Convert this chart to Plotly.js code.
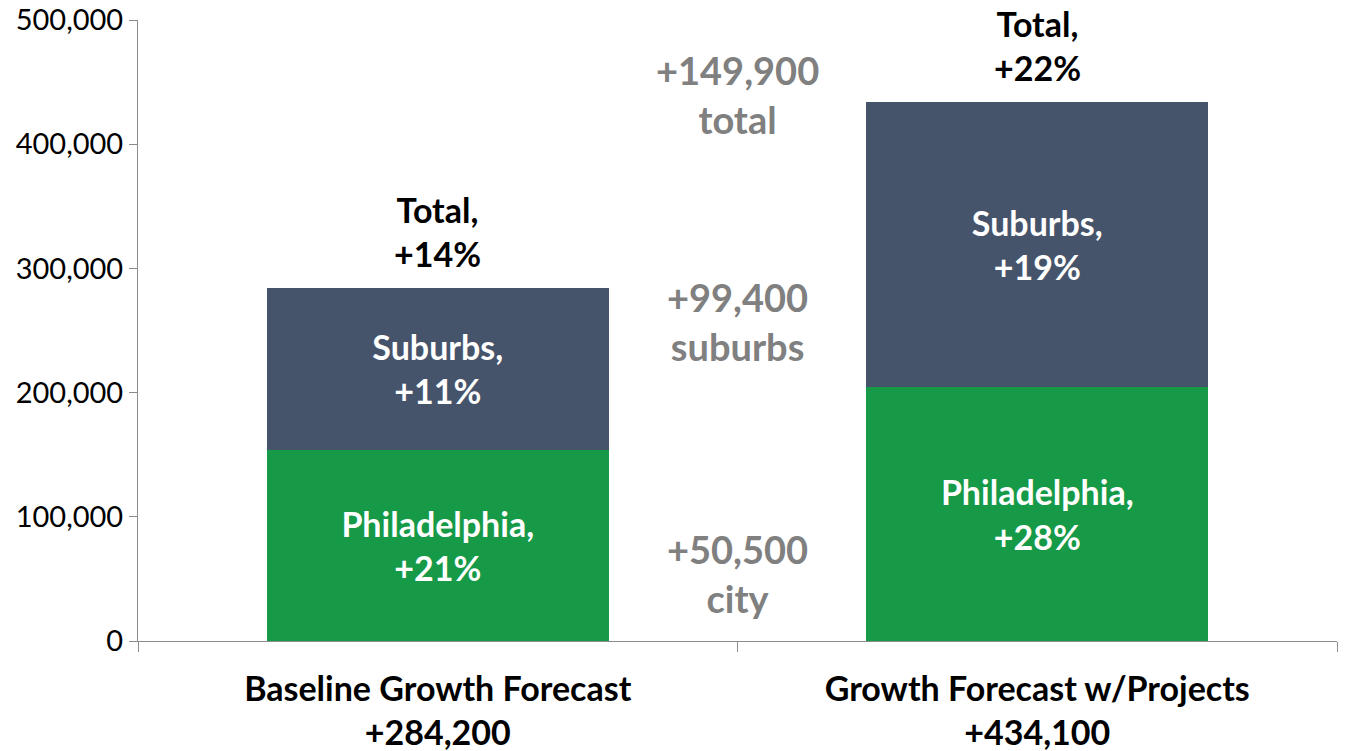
<!DOCTYPE html>
<html>
<head>
<meta charset="utf-8">
<script src="https://cdn.plot.ly/plotly-3.0.1.min.js"></script>
<style>
  html, body { margin: 0; padding: 0; background: #fff; }
  #chart { width: 1348px; height: 751px; }
</style>
</head>
<body>
<div id="chart"></div>
<script>
const scenarios = ['Baseline Growth Forecast', 'Growth Forecast w/Projects'];
const totalLabels = ['+284,200', '+434,100'];
const cityValues = [154000, 204500];
const suburbValues = [130200, 229600];
const cityPct = ['+21%', '+28%'];
const suburbPct = ['+11%', '+19%'];
const totalPct = ['+14%', '+22%'];
const diffLabels = ['+149,900<br>total', '+99,400<br>suburbs', '+50,500<br>city'];
const diffY = [440000, 257000, 54000];

const font = 'Lato, "Open Sans", sans-serif';
const totals = cityValues.map((v, i) => v + suburbValues[i]);

const traces = [
    {
        x: scenarios,
        y: cityValues,
        type: 'bar',
        name: 'Philadelphia',
        marker: { color: '#169A48' },
        text: cityPct.map(p => 'Philadelphia,<br>' + p),
        textposition: 'inside',
        insidetextanchor: 'middle',
        constraintext: 'none',
        textfont: { family: font, size: 34, color: '#ffffff', weight: 'bold' },
        hoverinfo: 'skip',
    },
    {
        x: scenarios,
        y: suburbValues,
        type: 'bar',
        name: 'Suburbs',
        marker: { color: '#46546B' },
        text: suburbPct.map(p => 'Suburbs,<br>' + p),
        textposition: 'inside',
        insidetextanchor: 'middle',
        constraintext: 'none',
        textfont: { family: font, size: 34, color: '#ffffff', weight: 'bold' },
        hoverinfo: 'skip',
    },
];

const annotations = scenarios.map((s, i) => ({
    x: s,
    y: totals[i],
    yanchor: 'bottom',
    yshift: 12,
    text: 'Total,<br>' + totalPct[i],
    showarrow: false,
    font: { family: font, size: 34, color: '#000000', weight: 'bold' },
})).concat(diffLabels.map((t, i) => ({
    x: 0.5,
    y: diffY[i],
    xref: 'x',
    text: t,
    showarrow: false,
    font: { family: font, size: 38, color: '#808080', weight: 'bold' },
})));

const layout = {
    width: 1348,
    height: 751,
    margin: { l: 138, r: 11, t: 20, b: 110 },
    paper_bgcolor: '#ffffff',
    plot_bgcolor: '#ffffff',
    barmode: 'stack',
    bargap: 0.43,
    showlegend: false,
    xaxis: {
        type: 'category',
        showline: true,
        linecolor: '#8c8c8c',
        linewidth: 1,
        ticks: 'outside',
        tickson: 'boundaries',
        ticklen: 10,
        tickcolor: '#8c8c8c',
        ticklabelstandoff: 18,
        tickvals: scenarios,
        ticktext: scenarios.map((s, i) => s + '<br>' + totalLabels[i]),
        tickfont: { family: font, size: 34, color: '#000000', weight: 'bold' },
    },
    yaxis: {
        range: [0, 500000],
        dtick: 100000,
        tickformat: ',',
        showgrid: false,
        zeroline: false,
        showline: true,
        linecolor: '#8c8c8c',
        linewidth: 1,
        ticks: 'outside',
        ticklen: 8,
        tickcolor: '#8c8c8c',
        tickfont: { family: font, size: 29, color: '#000000' },
    },
    annotations: annotations,
};

Plotly.newPlot('chart', traces, layout, { displayModeBar: false, staticPlot: true });
</script>
</body>
</html>
